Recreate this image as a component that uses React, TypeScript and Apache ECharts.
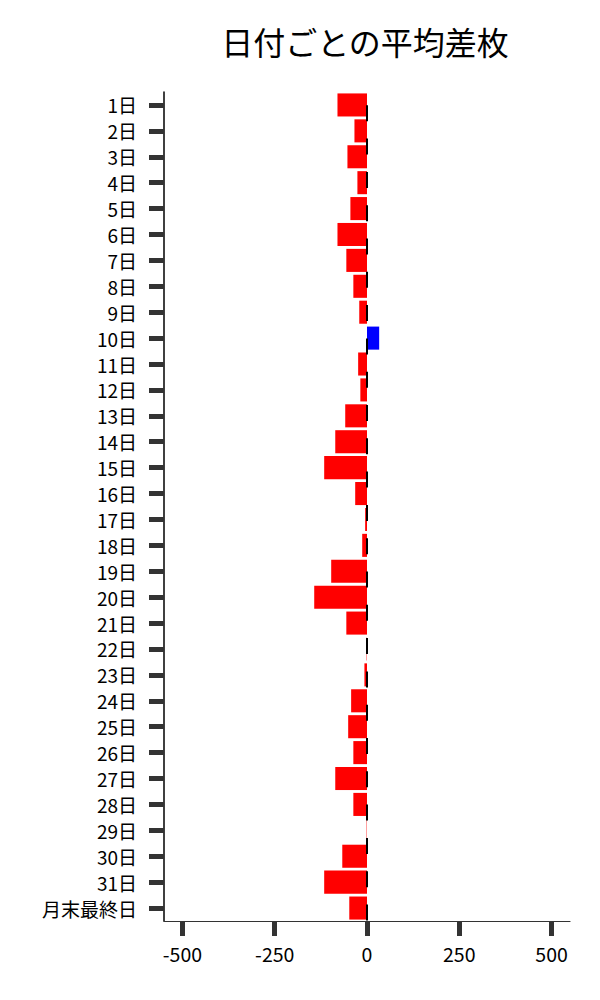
import React, { useEffect, useRef } from "react";
import * as echarts from "echarts";

const categories = [
  "1日", "2日", "3日", "4日", "5日", "6日", "7日", "8日", "9日", "10日",
  "11日", "12日", "13日", "14日", "15日", "16日", "17日", "18日", "19日", "20日",
  "21日", "22日", "23日", "24日", "25日", "26日", "27日", "28日", "29日", "30日",
  "31日", "月末最終日",
];

const values = [
  -80, -34, -53, -26, -45, -80, -56, -37, -21, 33,
  -24, -18, -59, -86, -116, -32, -5, -13, -97, -143,
  -56, -1, -7, -43, -51, -37, -86, -37, -1, -67,
  -116, -48,
];

const xTicks = [-500, -250, 0, 250, 500];

const FONT = "'Noto Sans CJK JP', 'Noto Sans', sans-serif";

export default function App() {
  const ref = useRef<HTMLDivElement>(null);

  useEffect(() => {
    document.body.style.margin = "0";
    if (!ref.current) return;
    const chart = echarts.init(ref.current, undefined, { renderer: "svg" });
    chart.setOption({
      animation: false,
      backgroundColor: "#ffffff",
      title: {
        text: "日付ごとの平均差枚",
        left: 360,
        textAlign: "center",
        top: 20,
        textStyle: {
          fontSize: 32,
          fontWeight: "normal",
          color: "#000000",
          fontFamily: FONT,
        },
      },
      grid: { left: 164, right: 30, top: 92, bottom: 79, containLabel: false },
      xAxis: {
        type: "value",
        min: -550,
        max: 550,
        splitLine: { show: false },
        axisLine: { show: true, onZero: false, lineStyle: { color: "#333333", width: 1.2 } },
        axisTick: {
          show: true,
          customValues: xTicks,
          length: 15,
          lineStyle: { color: "#333333", width: 5 },
        },
        axisLabel: {
          customValues: xTicks,
          margin: 23,
          fontSize: 19.5,
          color: "#000000",
          fontFamily: FONT,
        },
      },
      yAxis: {
        type: "category",
        data: categories,
        inverse: true,
        axisLine: { show: true, onZero: false, lineStyle: { color: "#000000", width: 1.5 } },
        axisTick: {
          show: true,
          alignWithLabel: true,
          interval: 0,
          length: 15,
          lineStyle: { color: "#333333", width: 5 },
        },
        axisLabel: {
          interval: 0,
          margin: 27,
          fontSize: 19,
          color: "#000000",
          fontFamily: FONT,
        },
      },
      series: [
        {
          type: "bar",
          data: values.map((v) => ({
            value: v,
            itemStyle: { color: v >= 0 ? "#0000ff" : "#ff0000" },
          })),
          barCategoryGap: "11%",
          markLine: {
            silent: true,
            symbol: "none",
            label: { show: false },
            z: 10,
            lineStyle: { color: "#000000", type: [16, 17.3], dashOffset: 20.3, width: 2 },
            data: [{ xAxis: 0 }],
          },
        },
      ],
    });
    return () => chart.dispose();
  }, []);

  return <div ref={ref} style={{ width: 600, height: 1000 }} />;
}
